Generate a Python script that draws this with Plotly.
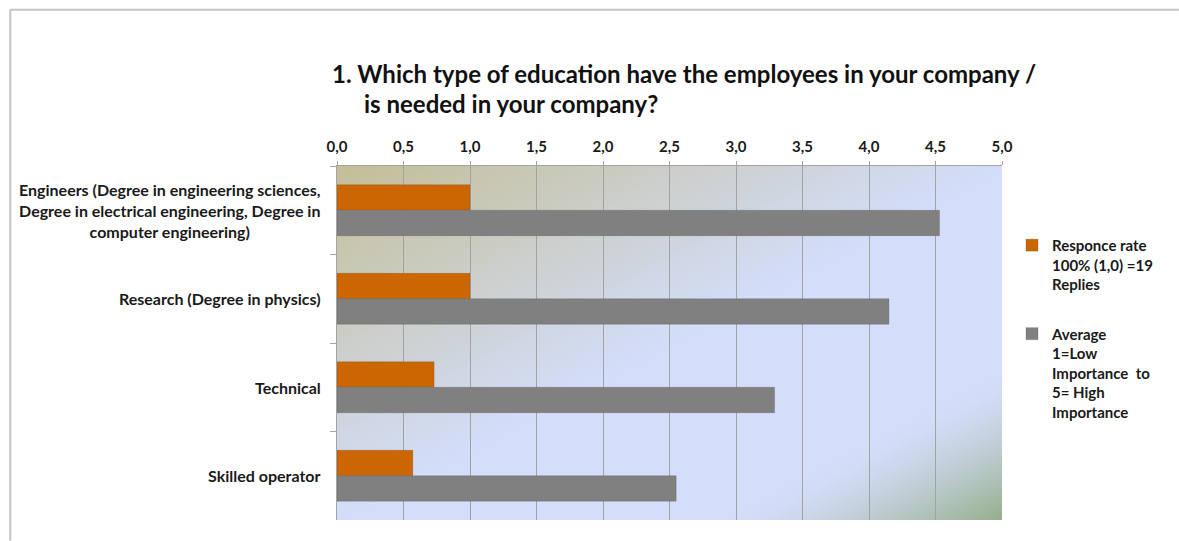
import base64
import struct
import zlib

import numpy as np
import plotly.graph_objects as go

# ---- data -------------------------------------------------------------
categories = [
    "Engineers (Degree in engineering sciences,<br>Degree in electrical engineering, Degree in<br>computer engineering)",
    "Research (Degree in physics)",
    "Technical",
    "Skilled operator",
]
category_keys = ["Engineers", "Research", "Technical", "Skilled operator"]
response_rate = [1.0, 1.0, 0.73, 0.57]
average_importance = [4.53, 4.15, 3.29, 2.55]
x_ticks = [0.0, 0.5, 1.0, 1.5, 2.0, 2.5, 3.0, 3.5, 4.0, 4.5, 5.0]

series_names = [
    "Responce rate<br>100% (1,0) =19<br>Replies",
    "Average<br>1=Low<br>Importance  to<br>5= High<br>Importance",
]
series_colors = ["#cc6600", "#808080"]

W, H = 1179, 541
FONT = "Lato"

# plot area in pixels
PL, PR, PT, PB = 336.5, 1002.0, 166.0, 520.5


def px_x(p):
    return (p - PL) / (PR - PL)


def px_y(p):
    return (PB - p) / (PB - PT)


# ---- gradient backdrop for the plot area (built as a small PNG) --------
def gradient_png(w=200, h=110):
    u = np.linspace(0, 1, w)[None, :]
    v = np.linspace(0, 1, h)[:, None]
    s = (u + v) / 2.0
    tan = np.array([196, 191, 152], float)
    blue = np.array([212, 222, 250], float)
    green = np.array([152, 176, 142], float)
    t = np.clip(s / 0.5, 0, 1)[..., None]
    col = tan * (1 - t) + blue * t
    g = np.clip((s - 0.8) / 0.2, 0, 1) ** 1.4
    g = g[..., None]
    col = col * (1 - g) + green * g
    img = np.clip(col, 0, 255).astype(np.uint8)
    raw = b"".join(b"\x00" + img[r].tobytes() for r in range(h))

    def chunk(tag, data):
        c = struct.pack(">I", len(data)) + tag + data
        return c + struct.pack(">I", zlib.crc32(tag + data) & 0xFFFFFFFF)

    png = b"\x89PNG\r\n\x1a\n"
    png += chunk(b"IHDR", struct.pack(">IIBBBBB", w, h, 8, 2, 0, 0, 0))
    png += chunk(b"IDAT", zlib.compress(raw, 9))
    png += chunk(b"IEND", b"")
    return "data:image/png;base64," + base64.b64encode(png).decode()


fig = go.Figure()

for i, (vals, name, color) in enumerate(
    [(response_rate, series_names[0], series_colors[0]),
     (average_importance, series_names[1], series_colors[1])]
):
    fig.add_trace(
        go.Bar(
            y=category_keys,
            x=vals,
            orientation="h",
            name=name,
            legendgroup=f"g{i}",
            marker=dict(color=color, line=dict(color="rgba(60,60,60,0.35)", width=0.6)),
            hoverinfo="x+y",
        )
    )

# category labels, centred line by line, right-aligned against the axis
annotations = []
for key, label in zip(category_keys, categories):
    annotations.append(
        dict(
            x=px_x(322),
            xref="paper",
            y=key,
            yref="y",
            text=label,
            showarrow=False,
            xanchor="right",
            yanchor="middle",
            align="center",
            font=dict(family=FONT, size=16, color="#1a1a1a", weight="bold"),
        )
    )

title_font = dict(family=FONT, size=24, color="#111111", weight="bold")
annotations.append(
    dict(
        x=px_x(329), xref="paper", y=px_y(73), yref="paper",
        text="1. Which type of education have the employees in your company /",
        showarrow=False, xanchor="left", yanchor="middle", font=title_font,
    )
)
annotations.append(
    dict(
        x=px_x(362), xref="paper", y=px_y(103), yref="paper",
        text="is needed in your company?",
        showarrow=False, xanchor="left", yanchor="middle", font=title_font,
    )
)

fig.update_layout(
    width=W,
    height=H,
    margin=dict(l=PL, r=W - PR, t=PT, b=H - PB, pad=0),
    paper_bgcolor="white",
    plot_bgcolor="rgba(0,0,0,0)",
    separators=", ",
    barmode="group",
    bargap=0.425,
    bargroupgap=0.0,
    showlegend=True,
    legend=dict(
        x=px_x(1012),
        y=px_y(229),
        xanchor="left",
        yanchor="top",
        traceorder="grouped",
        tracegroupgap=27,
        valign="top",
        itemwidth=30,
        font=dict(family=FONT, size=15, color="#1a1a1a", weight="bold"),
        bgcolor="rgba(0,0,0,0)",
    ),
    xaxis=dict(
        side="top",
        range=[0, 5],
        tickvals=x_ticks,
        tickformat=".1f",
        showgrid=True,
        gridcolor="#a3a3a3",
        gridwidth=1.3,
        zeroline=False,
        showline=True,
        linecolor="#a3a3a3",
        linewidth=1.3,
        ticks="outside",
        ticklen=4,
        tickcolor="#a3a3a3",
        tickfont=dict(family=FONT, size=15, color="#1a1a1a", weight="bold"),
        ticklabelstandoff=3,
        fixedrange=True,
    ),
    yaxis=dict(
        categoryorder="array",
        categoryarray=category_keys,
        autorange="reversed",
        showticklabels=False,
        ticks="outside",
        tickson="boundaries",
        ticklen=6,
        tickcolor="#a3a3a3",
        showline=True,
        linecolor="#a3a3a3",
        linewidth=1.3,
        showgrid=False,
        zeroline=False,
        fixedrange=True,
    ),
    images=[
        dict(
            source=gradient_png(),
            xref="x domain",
            yref="y domain",
            x=0,
            y=1,
            sizex=1,
            sizey=1,
            xanchor="left",
            yanchor="top",
            sizing="stretch",
            layer="below",
        )
    ],
    annotations=annotations,
    shapes=[
        dict(type="line", xref="paper", yref="paper",
             x0=px_x(9.5), x1=px_x(1179), y0=px_y(9.5), y1=px_y(9.5),
             line=dict(color="#c4c4c4", width=2)),
        dict(type="line", xref="paper", yref="paper",
             x0=px_x(9.5), x1=px_x(9.5), y0=px_y(9.5), y1=px_y(541),
             line=dict(color="#c4c4c4", width=2)),
    ],
)

fig.write_html("out.html")
